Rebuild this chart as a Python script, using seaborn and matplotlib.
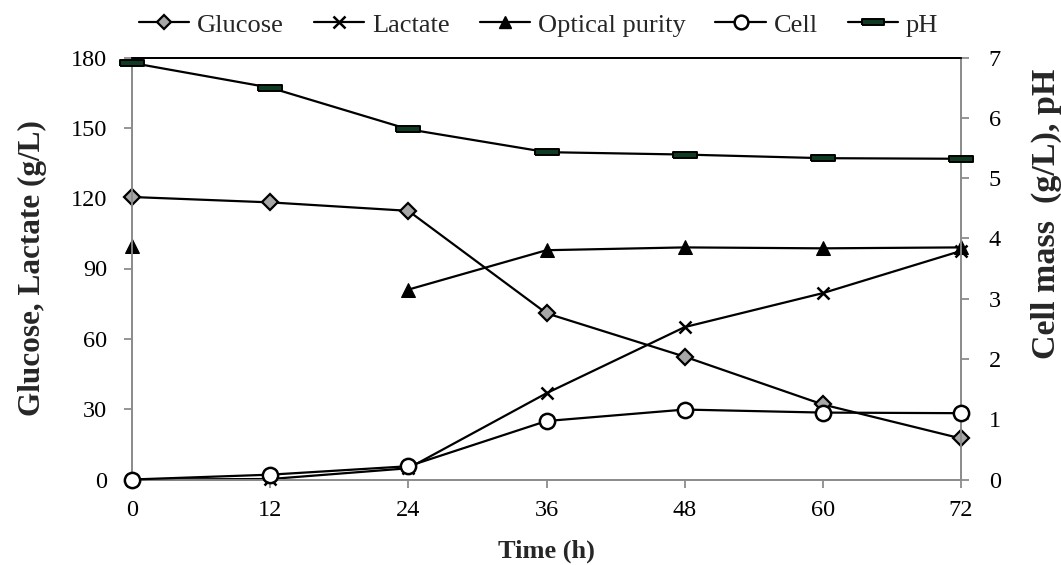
import matplotlib
matplotlib.use("Agg")
import matplotlib.pyplot as plt
from matplotlib.lines import Line2D
import numpy as np
import pandas as pd
import seaborn as sns

# Fermentation time course
time_h = [0, 12, 24, 36, 48, 60, 72]
glucose = [120.5, 118.2, 114.6, 70.9, 52.4, 32.0, 17.5]
lactate = [0.0, 0.2, 4.8, 36.8, 65.0, 79.5, 97.5]
optical_purity = [99.5, np.nan, 81.0, 97.8, 99.0, 98.6, 99.0]
cell_mass = [0.0, 0.08, 0.22, 0.97, 1.16, 1.11, 1.10]
ph = [6.91, 6.50, 5.81, 5.43, 5.39, 5.33, 5.32]

x_ticks = [0, 12, 24, 36, 48, 60, 72]
left_ticks = [0, 30, 60, 90, 120, 150, 180]
right_ticks = [0, 1, 2, 3, 4, 5, 6, 7]

df = pd.DataFrame({
    "time": time_h,
    "Glucose": glucose,
    "Lactate": lactate,
    "Optical purity": optical_purity,
    "Cell": cell_mass,
    "pH": ph,
})

sns.set_theme(style="white")
plt.rcParams["font.family"] = ["Liberation Serif", "DejaVu Serif"]
plt.rcParams["font.size"] = 17

GRAY = "#8c8c8c"
LW = 1.6
TICK_FS = 17.5
LEG_FS = 19

# flat bar marker used for pH
bar_marker = [(-1, -0.28), (1, -0.28), (1, 0.28), (-1, 0.28), (-1, -0.28)]

fig = plt.figure(figsize=(10.61, 5.65), dpi=100)
ax = fig.add_axes([132 / 1061, 1 - 479.5 / 565, (961 - 132) / 1061, (479.5 - 57.5) / 565])
ax2 = ax.twinx()

styles = {
    "Glucose": dict(ax=ax, marker="D", markersize=8, markerfacecolor="#a6a6a6",
                    markeredgecolor="black", markeredgewidth=1.6),
    "Lactate": dict(ax=ax, marker="x", markersize=9, markeredgecolor="black",
                    markeredgewidth=1.8),
    "Optical purity": dict(ax=ax, marker="^", markersize=10, markerfacecolor="black",
                           markeredgecolor="black"),
    "Cell": dict(ax=ax2, marker="o", markersize=11, markerfacecolor="white",
                 markeredgecolor="black", markeredgewidth=1.8),
    "pH": dict(ax=ax2, marker=bar_marker, markersize=17, markerfacecolor="#0e3b22",
               markeredgecolor="black", markeredgewidth=1.4),
}

handles = []
for name in ["Glucose", "Lactate", "Optical purity", "Cell", "pH"]:
    st = dict(styles[name])
    target = st.pop("ax")
    sub = df[["time", name]].copy()
    # a missing reading breaks the line into separate runs
    sub["run"] = sub[name].isna().cumsum()
    sub = sub.dropna()
    sns.lineplot(data=sub, x="time", y=name, units="run", ax=target, color="black",
                 linewidth=LW, estimator=None, sort=False, clip_on=False,
                 zorder=3, **st)
    handles.append(Line2D([0], [0], color="black", linewidth=LW, label=name,
                          markersize=st.get("markersize", 8) * 0.9,
                          **{k: v for k, v in st.items() if k != "markersize"}))

ax.set_xlim(0, 72)
ax.set_ylim(0, 180)
ax2.set_ylim(0, 7)
ax.set_xticks(x_ticks)
ax.set_yticks(left_ticks)
ax2.set_yticks(right_ticks)

for a in (ax, ax2):
    for side in ["left", "right", "bottom"]:
        a.spines[side].set_color(GRAY)
        a.spines[side].set_linewidth(1.3)
    a.spines["top"].set_color("black")
    a.spines["top"].set_linewidth(1.3)
    a.tick_params(axis="both", which="both", direction="out", length=6, width=1.3,
                  color=GRAY, labelsize=TICK_FS, labelcolor="black")
    a.grid(False)

ax.tick_params(axis="y", left=True, right=False, pad=12)
ax.tick_params(axis="x", bottom=True, pad=9)
ax2.tick_params(axis="y", right=True, left=False, pad=14)

ax.set_xlabel("Time (h)", fontsize=19, fontweight="bold", labelpad=13)
ax.set_ylabel("Glucose, Lactate (g/L)", fontsize=22.5, fontweight="bold", va="center")
ax.yaxis.set_label_coords((32 - 132) / 829, 0.5)
ax2.set_ylabel("Cell mass  (g/L), pH", fontsize=24.5, fontweight="bold", va="center")
ax2.yaxis.set_label_coords((1046 - 132) / 829, 0.629)

fig.legend(handles=handles, loc="center", bbox_to_anchor=(538.5 / 1061, 1 - 25 / 565),
           ncol=5, frameon=False, fontsize=LEG_FS, handlelength=1.9, handletextpad=0.3,
           columnspacing=1.14, borderaxespad=0)

fig.savefig("out.png", dpi=100)
